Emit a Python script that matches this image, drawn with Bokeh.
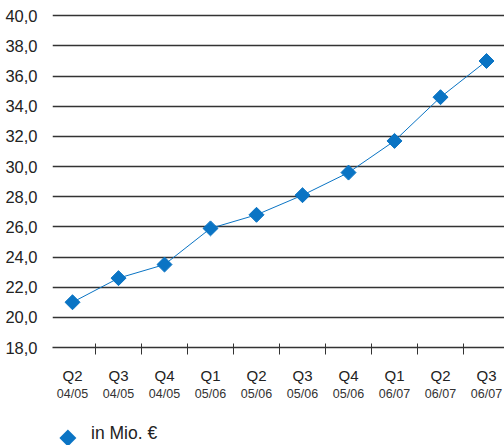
import numpy as np
from bokeh.plotting import figure
from bokeh.models import Range1d, FixedTicker, ColumnDataSource, LinearAxis, Div
from bokeh.layouts import column
from bokeh.embed import file_html
from bokeh.resources import INLINE

quarters = ["Q2", "Q3", "Q4", "Q1", "Q2", "Q3", "Q4", "Q1", "Q2", "Q3"]
years = ["04/05", "04/05", "04/05", "05/06", "05/06", "05/06", "05/06", "06/07", "06/07", "06/07"]
revenue = [21.0, 22.6, 23.5, 25.9, 26.8, 28.1, 29.6, 31.7, 34.6, 37.0]
y_ticks = [18, 20, 22, 24, 26, 28, 30, 32, 34, 36, 38, 40]
y_tick_labels = ["18,0", "20,0", "22,0", "24,0", "26,0", "28,0", "30,0", "32,0", "34,0", "36,0", "38,0", "40,0"]
legend_label = "in Mio. €"

BLUE = "#0a74c4"
DARK = "#333333"
FONT = "Liberation Sans"

idx = list(range(len(revenue)))
boundaries = [i + 0.5 for i in idx[:-1]]

p = figure(width=504, height=415, output_backend="svg", toolbar_location=None,
           x_range=Range1d(-0.4348, 9.391), y_range=Range1d(18, 40.15),
           min_border_left=52, min_border_right=0, min_border_top=13, min_border_bottom=68)
p.outline_line_color = None
p.background_fill_color = "white"
p.border_fill_color = "white"

# y axis
p.yaxis.ticker = FixedTicker(ticks=y_ticks)
p.yaxis.major_label_overrides = {t: lab for t, lab in zip(y_ticks, y_tick_labels)}
p.yaxis.axis_line_color = None
p.yaxis.major_tick_line_color = None
p.yaxis.minor_tick_line_color = None
p.yaxis.major_label_standoff = 9
p.yaxis.major_label_text_font = FONT
p.yaxis.major_label_text_font_size = "16.5px"
p.yaxis.major_label_text_color = "#222222"

# grid
p.ygrid.ticker = FixedTicker(ticks=y_ticks)
p.ygrid.grid_line_color = DARK
p.ygrid.grid_line_width = 1.3
p.xgrid.grid_line_color = None

# x axis: quarter labels at categories, tick marks at boundaries
xa = p.xaxis[0]
xa.ticker = FixedTicker(ticks=idx, minor_ticks=boundaries)
xa.major_label_overrides = {i: q for i, q in zip(idx, quarters)}
xa.axis_line_color = DARK
xa.axis_line_width = 1.3
xa.major_tick_line_color = None
xa.major_tick_in = 0
xa.major_tick_out = 0
xa.minor_tick_line_color = DARK
xa.minor_tick_line_width = 1
xa.minor_tick_in = 4
xa.minor_tick_out = 7
xa.major_label_standoff = 12
xa.major_label_text_font = FONT
xa.major_label_text_font_size = "15px"
xa.major_label_text_color = "#222222"

# second axis with fiscal-year labels
ya = LinearAxis(ticker=FixedTicker(ticks=idx),
                major_label_overrides={i: y for i, y in zip(idx, years)})
ya.axis_line_color = None
ya.major_tick_line_color = None
ya.minor_tick_line_color = None
ya.major_tick_in = 0
ya.major_tick_out = 0
ya.major_label_standoff = 0
ya.major_label_text_font = FONT
ya.major_label_text_font_size = "12.5px"
ya.major_label_text_color = "#333333"
p.add_layout(ya, "below")

src = ColumnDataSource(dict(x=idx, y=revenue))
p.line("x", "y", source=src, line_color=BLUE, line_width=1)
p.scatter("x", "y", source=src, marker="square", angle=np.pi / 4, size=10.6,
          fill_color=BLUE, line_color=BLUE)

legend_html = (
    '<div style="position:relative;width:504px;height:30px;">'
    f'<div style="position:absolute;left:57px;top:11.8px;width:11.8px;height:11.8px;'
    f'background:{BLUE};transform:rotate(45deg);"></div>'
    f'<span style="position:absolute;left:86px;top:5px;line-height:1;white-space:nowrap;'
    f'font-family:\'{FONT}\';font-size:17.5px;color:#222222;">{legend_label}</span>'
    '</div>'
)
legend_div = Div(text=legend_html, width=504, height=30)

layout = column(p, legend_div, spacing=0)

open("out.html", "w").write(file_html(layout, INLINE))
